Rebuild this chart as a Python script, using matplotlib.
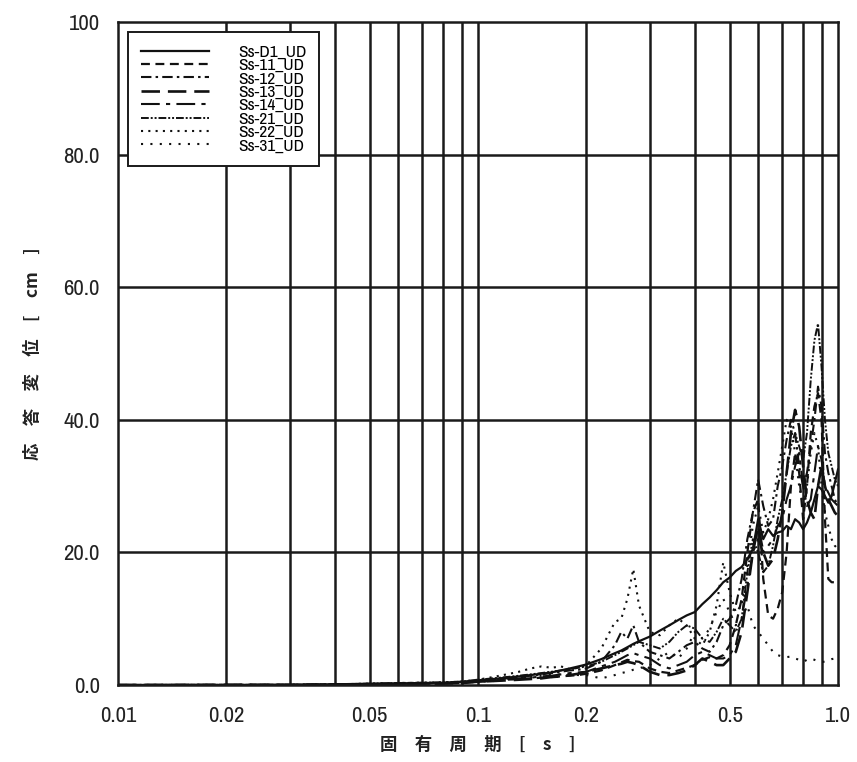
import matplotlib
matplotlib.use("Agg")
import matplotlib.pyplot as plt
from matplotlib import font_manager as fm
from matplotlib.ticker import FixedLocator, NullFormatter, NullLocator

plt.rcParams['font.family'] = ['Noto Sans CJK JP', 'DejaVu Sans']

# pick a narrow/condensed sans font for the numbers if one is installed
narrow_path = None
_cands = []
for f in fm.fontManager.ttflist:
    nm = f.name.lower()
    st = str(f.stretch).lower()
    if f.style != 'normal':
        continue
    if f.weight not in (400, 'normal', 'regular', 'book'):
        continue
    if 'narrow' in nm:
        _cands.append((0, f.fname))
    elif 'condensed' in nm or st in ('condensed', 'semi-condensed'):
        _cands.append((1, f.fname))
if _cands:
    _cands.sort()
    narrow_path = _cands[0][1]

periods = [0.01, 0.03, 0.04, 0.05, 0.06, 0.07, 0.08, 0.09, 0.10,
           0.11, 0.12, 0.13, 0.14, 0.15, 0.16, 0.17, 0.18, 0.19, 0.20,
           0.22, 0.24, 0.25, 0.26, 0.27, 0.28,
           0.30, 0.32, 0.34, 0.36, 0.38, 0.40, 0.42, 0.44, 0.46, 0.48,
           0.50, 0.52, 0.54, 0.56, 0.58, 0.60, 0.62, 0.64, 0.66, 0.68,
           0.70, 0.72, 0.74, 0.76, 0.78, 0.80, 0.82, 0.84, 0.86, 0.88,
           0.90, 0.92, 0.94, 0.96, 0.98, 1.00]

ss_d1 = [0.0, 0.02, 0.1, 0.2, 0.25, 0.3, 0.35, 0.5, 0.7,
         0.9, 1.1, 1.3, 1.5, 1.7, 1.9, 2.2, 2.5, 2.8, 3.1,
         3.9, 4.8, 5.2, 5.7, 6.2, 6.6,
         7.3, 8.2, 9.0, 9.8, 10.5, 11.0, 12.2, 13.2, 14.3, 15.5,
         16.2, 17.2, 17.8, 19.0, 20.5, 25.0, 22.0, 23.5, 22.5, 23.0,
         23.2, 24.0, 23.5, 25.0, 24.5, 23.5, 24.5, 26.0, 28.0, 30.0,
         29.5, 28.5, 27.5, 28.5, 30.5, 32.5]
ss_11 = [0.0, 0.02, 0.05, 0.1, 0.15, 0.2, 0.25, 0.3, 0.5,
         0.6, 0.8, 0.9, 1.0, 1.1, 1.2, 1.3, 1.4, 1.5, 1.7,
         2.2, 3.0, 3.4, 3.8, 3.6, 3.5,
         2.5, 2.0, 1.8, 2.2, 2.6, 3.0, 3.8, 4.2, 4.0, 4.5,
         6.0, 9.0, 13.0, 20.0, 26.0, 28.0, 16.0, 10.5, 10.0, 11.5,
         14.0, 20.0, 30.0, 35.0, 32.0, 25.0, 30.0, 38.0, 42.0, 44.0,
         40.0, 25.0, 16.0, 15.5, 15.5, 15.5]
ss_12 = [0.0, 0.02, 0.08, 0.15, 0.2, 0.25, 0.3, 0.4, 0.6,
         0.8, 1.0, 1.2, 1.4, 1.6, 1.8, 2.0, 2.2, 2.3, 2.5,
         3.5, 6.0, 8.0, 7.0, 9.0, 6.5,
         5.0, 4.5, 4.0, 5.0, 6.0, 6.5, 5.5, 5.0, 6.5, 9.0,
         10.0, 12.0, 16.0, 22.0, 26.0, 31.0, 27.0, 24.0, 25.0, 30.0,
         33.0, 37.0, 40.0, 38.0, 33.0, 30.0, 32.0, 36.0, 40.0, 45.0,
         42.0, 35.0, 32.0, 30.0, 28.0, 27.0]
ss_13 = [0.0, 0.02, 0.05, 0.1, 0.15, 0.2, 0.2, 0.3, 0.5,
         0.6, 0.7, 0.8, 0.9, 1.0, 1.2, 1.3, 1.5, 1.7, 2.0,
         2.5, 3.0, 3.2, 3.5, 3.3, 3.0,
         2.0, 1.5, 1.5, 1.8, 2.2, 3.0, 4.0, 3.5, 3.0, 3.0,
         4.0, 5.0, 8.0, 14.0, 20.0, 24.0, 20.0, 18.0, 19.0, 22.0,
         26.0, 32.0, 38.0, 41.5, 39.0, 33.0, 28.0, 26.0, 25.0, 30.0,
         33.0, 30.0, 28.0, 27.0, 26.0, 25.5]
ss_14 = [0.0, 0.02, 0.05, 0.1, 0.15, 0.2, 0.25, 0.3, 0.5,
         0.7, 0.9, 1.0, 1.1, 1.3, 1.4, 1.6, 1.8, 1.9, 2.0,
         2.8, 3.5, 4.0, 4.5, 4.8, 4.5,
         4.0, 3.0, 2.5, 3.0, 3.5, 4.5, 5.0, 4.5, 4.0, 4.0,
         4.5, 6.0, 10.0, 15.0, 20.0, 22.0, 20.0, 21.0, 22.0, 24.0,
         25.0, 28.0, 30.0, 33.0, 35.0, 30.0, 27.0, 28.0, 32.0, 36.0,
         34.0, 30.0, 29.0, 28.0, 27.5, 27.0]
ss_21 = [0.0, 0.02, 0.1, 0.2, 0.3, 0.35, 0.4, 0.5, 0.8,
         1.0, 1.2, 1.4, 1.6, 1.8, 2.0, 2.2, 2.4, 2.6, 2.8,
         3.5, 4.5, 5.0, 5.5, 6.0, 6.5,
         6.0, 5.5, 6.5, 8.0, 9.0, 8.5, 7.0, 6.5, 8.0, 10.0,
         9.0, 8.0, 10.0, 17.0, 22.0, 20.0, 17.0, 18.0, 21.0, 25.0,
         28.0, 32.0, 36.0, 38.0, 36.0, 34.0, 38.0, 46.0, 52.0, 54.5,
         48.0, 40.0, 35.0, 33.0, 31.0, 30.0]
ss_22 = [0.0, 0.02, 0.1, 0.2, 0.3, 0.35, 0.4, 0.5, 0.8,
         1.2, 1.6, 2.0, 2.5, 2.8, 2.6, 2.8, 2.4, 2.6, 3.0,
         5.5, 9.5, 10.0, 13.0, 17.5, 12.0,
         8.0, 7.5, 9.0, 10.0, 9.0, 7.0, 6.0, 8.0, 12.0, 18.5,
         14.0, 11.0, 12.0, 18.0, 24.0, 27.0, 23.0, 25.0, 28.0, 32.0,
         36.0, 40.0, 39.0, 35.0, 30.0, 27.0, 30.0, 35.0, 38.0, 36.0,
         30.0, 26.0, 24.0, 22.0, 21.0, 20.5]
ss_31 = [0.0, 0.02, 0.05, 0.1, 0.15, 0.2, 0.25, 0.3, 0.5,
         0.6, 0.8, 1.0, 1.2, 1.4, 1.6, 1.6, 1.6, 1.5, 1.5,
         1.0, 1.5, 1.8, 2.0, 2.3, 2.5,
         3.0, 4.0, 5.0, 4.0, 5.5, 8.0, 7.0, 8.5, 11.0, 13.0,
         11.0, 9.0, 10.0, 12.0, 9.0, 8.0, 7.0, 6.0, 5.0, 4.5,
         4.3, 4.2, 4.3, 4.0, 3.8, 3.5, 3.8, 4.0, 3.8, 3.6,
         3.5, 3.5, 3.7, 3.9, 4.0, 4.2]

series_names = ['Ss-D1_UD', 'Ss-11_UD', 'Ss-12_UD', 'Ss-13_UD',
                'Ss-14_UD', 'Ss-21_UD', 'Ss-22_UD', 'Ss-31_UD']
series_values = [ss_d1, ss_11, ss_12, ss_13, ss_14, ss_21, ss_22, ss_31]

x_ticks = [0.01, 0.02, 0.05, 0.1, 0.2, 0.5, 1.0]
x_tick_labels = ['0.01', '0.02', '0.05', '0.1', '0.2', '0.5', '1.0']
y_ticks = [0, 20, 40, 60, 80, 100]
y_tick_labels = ['0.0', '20.0', '40.0', '60.0', '80.0', '100']
x_grid = [0.02, 0.03, 0.04, 0.05, 0.06, 0.07, 0.08, 0.09,
          0.1, 0.2, 0.3, 0.4, 0.5, 0.6, 0.7, 0.8, 0.9]
x_label = '固\u3000有\u3000周\u3000期\u3000[\u3000s\u3000]'
y_label = '応\u3000答\u3000変\u3000位\u3000[\u3000cm\u3000]'

styles = [
    dict(linestyle='-', linewidth=1.6),
    dict(linestyle=(0, (4, 2.5)), linewidth=1.6),
    dict(linestyle=(0, (5, 2, 1.2, 2)), linewidth=1.5),
    dict(linestyle=(0, (7, 3)), linewidth=1.9),
    dict(linestyle=(0, (9, 3, 2, 3)), linewidth=1.5),
    dict(linestyle=(0, (4, 1, 1, 1, 1, 1)), linewidth=1.4),
    dict(linestyle=(0, (1, 2.5)), linewidth=1.5),
    dict(linestyle=(0, (1, 3.5)), linewidth=1.5),
]

for v in series_values:
    assert len(v) == len(periods)

if narrow_path:
    tick_fp = fm.FontProperties(fname=narrow_path, size=16.5)
    leg_fp = fm.FontProperties(fname=narrow_path, size=12.5)
    leg_spacing = -0.1
    leg_hl, leg_tp, leg_bp = 3.95, 1.7, 0.72
else:
    tick_fp = fm.FontProperties(family=['Noto Sans CJK JP', 'DejaVu Sans'], size=13.5)
    leg_fp = fm.FontProperties(family=['Noto Sans CJK JP', 'DejaVu Sans'], size=10.5)
    leg_spacing = 0.0
    leg_hl, leg_tp, leg_bp = 4.5, 2.0, 0.8

fig = plt.figure(figsize=(8.57, 7.62), dpi=100)
ax = fig.add_axes([118 / 857, 77 / 762, 720 / 857, 663 / 762])

for name, vals, st in zip(series_names, series_values, styles):
    ax.plot(periods, vals, color='#111111', label=name, **st)

ax.set_xscale('log')
ax.set_xlim(0.01, 1.0)
ax.set_ylim(0, 100)

for xg in x_grid:
    ax.axvline(xg, color='#1a1a1a', linewidth=1.8, zorder=0.5)
for yg in y_ticks[1:-1]:
    ax.axhline(yg, color='#1a1a1a', linewidth=1.8, zorder=0.5)

ax.xaxis.set_major_locator(FixedLocator(x_ticks))
ax.xaxis.set_minor_locator(NullLocator())
ax.xaxis.set_minor_formatter(NullFormatter())
ax.set_xticks(x_ticks)
ax.set_xticklabels(x_tick_labels, fontproperties=tick_fp)
ax.set_yticks(y_ticks)
ax.set_yticklabels(y_tick_labels, fontproperties=tick_fp)
ax.tick_params(axis='both', length=0, labelcolor='#222222')
ax.tick_params(axis='x', pad=15)
ax.tick_params(axis='y', pad=13)

for sp in ax.spines.values():
    sp.set_linewidth(1.8)
    sp.set_color('#1a1a1a')

ax.set_xlabel(x_label, fontsize=12.5, labelpad=7, color='#222222', fontweight='bold')
ax.set_ylabel(y_label, fontsize=12.5, labelpad=16, color='#222222', fontweight='bold')

leg = ax.legend(loc='upper left', bbox_to_anchor=(0.0139, 0.985), prop=leg_fp,
                frameon=True, fancybox=False, framealpha=1.0, edgecolor='#1a1a1a',
                handlelength=leg_hl, handletextpad=leg_tp, labelspacing=leg_spacing,
                borderpad=leg_bp, borderaxespad=0.0)
leg.get_frame().set_linewidth(1.4)

fig.savefig('out.png', dpi=100)
